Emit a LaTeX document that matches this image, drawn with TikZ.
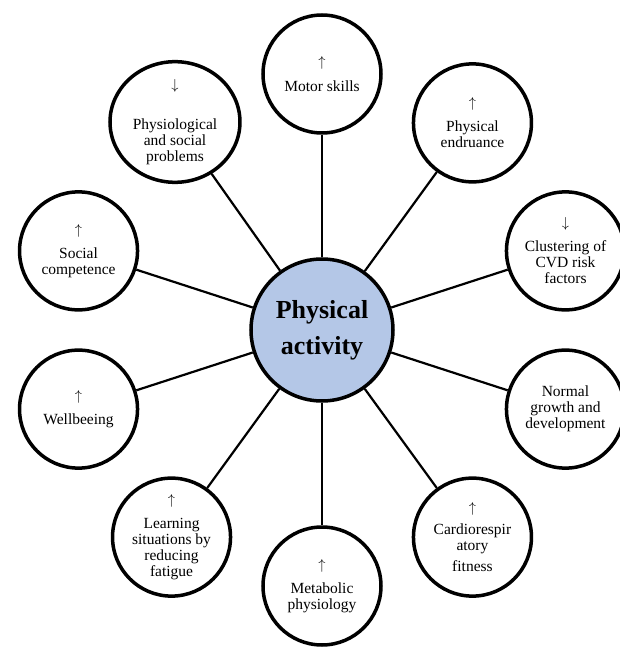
\documentclass[tikz,border=0pt]{standalone}
\usepackage{fontspec}
\setmainfont{Liberation Serif}
\usepackage{tikz}
\usetikzlibrary{positioning}
\usetikzlibrary{shapes.geometric}

\definecolor{paleblue}{HTML}{B4C7E7}

\begin{document}
\begin{tikzpicture}[x=1pt,y=1pt]
\tikzset{outcome/.style={circle,minimum size=118pt,inner sep=0pt, draw, line width=3.5pt, align=center, font=\fontsize{15.5}{16}\selectfont}}
\tikzset{hub/.style={circle,minimum size=142pt,inner sep=0pt, draw, line width=3.5pt, fill=paleblue, align=center, font=\fontsize{26}{36}\selectfont\bfseries}}
\tikzset{link/.style={line width=2.2pt}}
\useasboundingbox (-322,-318) rectangle (297,330);
\node[hub] (activity) at (0,0) {Physical\\activity};
\node[outcome] (motor) at (90:256) {$\uparrow$\\[9pt]Motor skills};
\node[outcome] (endurance) at (54:256) {$\uparrow$\\[8pt]Physical\\endruance};
\node[outcome] (cvd) at (18:256) {$\downarrow$\\[8pt]Clustering of\\CVD risk\\factors};
\node[outcome] (growth) at (-18:256) {Normal\\growth and\\development};
\node[outcome] (cardio) at (-54:256) {$\uparrow$\\[6pt]Cardiorespir\\atory\\[5pt]fitness};
\node[outcome] (metabolic) at (-90:256) {$\uparrow$\\[8pt]Metabolic\\physiology};
\node[outcome] (learning) at (-126:256) {$\uparrow$\\[8pt]Learning\\situations by\\reducing\\fatigue};
\node[outcome] (wellbeing) at (-162:256) {$\uparrow$\\[8pt]Wellbeeing};
\node[outcome] (social) at (162:256) {$\uparrow$\\[8pt]Social\\competence};
\node[outcome, ellipse, minimum width=130pt, minimum height=119pt] (problems) at (-147,208) {$\downarrow$\\[24pt]Physiological\\and social\\problems};
\draw[link] (activity) -- (motor);
\draw[link] (activity) -- (endurance);
\draw[link] (activity) -- (cvd);
\draw[link] (activity) -- (growth);
\draw[link] (activity) -- (cardio);
\draw[link] (activity) -- (metabolic);
\draw[link] (activity) -- (learning);
\draw[link] (activity) -- (wellbeing);
\draw[link] (activity) -- (social);
\draw[link] (activity) -- (problems);
\end{tikzpicture}
\end{document}
